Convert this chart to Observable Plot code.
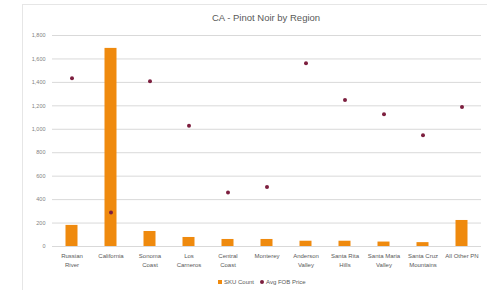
<!DOCTYPE html>
<html>
<head>
<meta charset="utf-8">
<script src="https://cdn.jsdelivr.net/npm/d3@7"></script>
<script src="https://cdn.jsdelivr.net/npm/@observablehq/plot@0.6"></script>
<style>
  html, body { margin: 0; padding: 0; background: #fff; }
  #wrap { position: relative; width: 487px; height: 290px; overflow: hidden; font-family: "Liberation Sans", Arial, sans-serif; }
  #frame { position: absolute; left: 22px; top: 4px; width: 480px; height: 300px; border-left: 1px solid #e6e6e6; border-top: 1px solid #e6e6e6; box-sizing: border-box; }
  #title { position: absolute; left: 0; width: 532px; top: 12px; text-align: center; font-size: 9.5px; color: #595959; }
  #legend { position: absolute; top: 279px; left: 218px; font-size: 6px; color: #595959; white-space: nowrap; }
  #legend span.sw { display: inline-block; width: 4px; height: 4px; vertical-align: middle; margin-right: 2px; }
  #legend span.it { margin-right: 6px; vertical-align: middle; }
  #chart { position: absolute; left: 0; top: 0; }
</style>
</head>
<body>
<div id="wrap">
  <div id="frame"></div>
  <div id="chart"></div>
  <div id="title">CA - Pinot Noir by Region</div>
  <div id="legend"><span class="sw" style="background:#ef8a0e"></span><span class="it">SKU Count</span><span class="sw" style="background:#7d1f3f;border-radius:50%"></span><span class="it">Avg FOB Price</span></div>
</div>
<script>
const regions = ["Russian\nRiver", "California", "Sonoma\nCoast", "Los\nCarneros", "Central\nCoast", "Monterey", "Anderson\nValley", "Santa Rita\nHills", "Santa Maria\nValley", "Santa Cruz\nMountains", "All Other PN"];
const skuCount = [180, 1690, 128, 77, 60, 60, 45, 45, 38, 33, 222];
const avgFobPrice = [1436, 290, 1410, 1030, 461, 507, 1564, 1250, 1128, 949, 1190];
const yTicks = [0, 200, 400, 600, 800, 1000, 1200, 1400, 1600, 1800];

const data = regions.map((r, i) => ({ region: r, sku: skuCount[i], price: avgFobPrice[i] }));

const chart = Plot.plot({
  width: 487,
  height: 290,
  marginLeft: 52,
  marginRight: 6,
  marginTop: 35,
  marginBottom: 44,
  style: { fontFamily: "Liberation Sans, Arial, sans-serif", background: "transparent", color: "#595959" },
  x: { domain: regions, padding: 0, label: null },
  y: { domain: [0, 1800], label: null },
  marks: [
    Plot.gridY(yTicks, { stroke: "#d9d9d9", strokeOpacity: 1 }),
    Plot.barY(data, { x: "region", y: "sku", fill: "#ef8a0e", insetLeft: 13.5, insetRight: 13.5 }),
    Plot.dot(data, { x: "region", y: "price", r: 2, fill: "#7d1f3f" }),
    Plot.axisY(yTicks, { tickSize: 0, tickPadding: 7, fontSize: 5.5, fill: "#7f7f7f", tickFormat: d3.format(","), label: null }),
    Plot.axisX({ tickSize: 0, tickPadding: 6, fontSize: 6, fill: "#595959", lineHeight: 1.4, label: null })
  ]
});
document.getElementById("chart").appendChild(chart);
</script>
</body>
</html>
